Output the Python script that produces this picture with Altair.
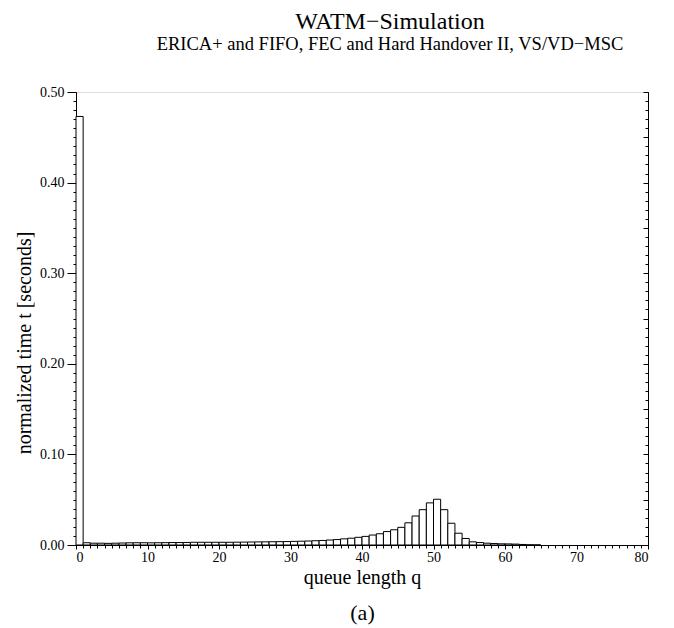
import altair as alt
import pandas as pd

# ---- data ----
q_start = list(range(0, 65))
t_values = [
    0.473, 0.0025, 0.0020, 0.0020, 0.0018, 0.0020, 0.0022, 0.0024, 0.0025, 0.0025,
    0.0024, 0.0025, 0.0026, 0.0027, 0.0027, 0.0028, 0.0030, 0.0030, 0.0030, 0.0030,
    0.0030, 0.0030, 0.0031, 0.0032, 0.0033, 0.0034, 0.0035, 0.0036, 0.0037, 0.0038,
    0.0040, 0.0042, 0.0044, 0.0047, 0.0050, 0.0055, 0.0060, 0.0068, 0.0075, 0.0085,
    0.0095, 0.0110, 0.0124, 0.0148, 0.0168, 0.0195, 0.0245, 0.0320, 0.0390, 0.0465,
    0.0505, 0.0390, 0.0240, 0.0130, 0.0072, 0.0035, 0.0027, 0.0020, 0.0016, 0.0013,
    0.0012, 0.0010, 0.0006, 0.0002, 0.0001,
]
x_major = [0, 10, 20, 30, 40, 50, 60, 70, 80]
x_minor = list(range(0, 81))
y_major = [0.0, 0.1, 0.2, 0.3, 0.4, 0.5]
y_minor = [i / 100 for i in range(0, 51)]
y_mid = [i / 100 for i in range(0, 51, 5)]

title_text = "WATM\u2212Simulation"
subtitle_text = "ERICA+ and FIFO, FEC and Hard Handover II, VS/VD\u2212MSC"
x_title = "queue length q"
y_title = "normalized time t [seconds]"
caption = "(a)"

df = pd.DataFrame({"q": q_start, "t": t_values})

FONT = "Liberation Serif"
W, H = 572, 453

x_scale = alt.Scale(domain=[0, 80], nice=False, zero=False)
y_scale = alt.Scale(domain=[0, 0.5], nice=False)

base = alt.Chart(df).transform_calculate(q2="datum.q + 1")

common_axis = dict(grid=False, domainColor="black", tickColor="black",
                   labelColor="black", titleColor="black", labelFont=FONT,
                   titleFont=FONT, titleFontWeight="normal")

bars = base.mark_bar(fill="white", stroke="black", strokeWidth=1).encode(
    x=alt.X("q:Q", scale=x_scale,
            axis=alt.Axis(orient="bottom", values=x_major, format="d", tickSize=4,
                          labelFontSize=14, labelPadding=1, title=x_title,
                          titleFontSize=20, titlePadding=3, **common_axis)),
    x2="q2:Q",
    y=alt.Y("t:Q", scale=y_scale,
            axis=alt.Axis(orient="left", values=y_major, format=".2f", tickSize=9,
                          labelFontSize=14, labelPadding=3, title=y_title,
                          titleFontSize=20, titlePadding=5,
                          titleY=H / 2 + 24, **common_axis)),
    y2=alt.datum(0),
)

minor_lb = base.mark_bar(opacity=0).encode(
    x=alt.X("q:Q", scale=x_scale,
            axis=alt.Axis(orient="bottom", values=x_minor, labels=False, domain=False,
                          tickSize=3, title=caption, titleFontSize=22,
                          titlePadding=54, **common_axis)),
    x2="q2:Q",
    y=alt.Y("t:Q", scale=y_scale,
            axis=alt.Axis(orient="left", values=y_minor, labels=False, domain=False,
                          tickSize=3, title="", **common_axis)),
    y2=alt.datum(0),
)

right_minor = base.mark_bar(opacity=0).encode(
    x=alt.X("q:Q", scale=x_scale, axis=None),
    x2="q2:Q",
    y=alt.Y("t:Q", scale=y_scale,
            axis=alt.Axis(orient="right", values=y_minor, labels=False, domain=False,
                          tickSize=3, offset=-3, title="", **common_axis)),
    y2=alt.datum(0),
)

right_mid = base.mark_bar(opacity=0).encode(
    x=alt.X("q:Q", scale=x_scale, axis=None),
    x2="q2:Q",
    y=alt.Y("t:Q", scale=y_scale,
            axis=alt.Axis(orient="right", values=y_mid, labels=False, domain=False,
                          tickSize=5, offset=-5, title="", **common_axis)),
    y2=alt.datum(0),
)

right_domain = base.mark_bar(opacity=0).encode(
    x=alt.X("q:Q", scale=x_scale, axis=None),
    x2="q2:Q",
    y=alt.Y("t:Q", scale=y_scale,
            axis=alt.Axis(orient="right", values=y_major, labels=False, ticks=False,
                          domain=True, title="", **common_axis)),
    y2=alt.datum(0),
)

chart = alt.layer(bars, minor_lb, right_minor, right_mid, right_domain).resolve_axis(
    x="independent", y="independent"
).properties(
    width=W,
    height=H,
    padding={"left": 68, "top": 84, "right": 18, "bottom": 83},
    autosize=alt.AutoSizeParams(type="none"),
    title=alt.TitleParams(
        text=title_text, subtitle=subtitle_text, font=FONT, fontSize=24,
        fontWeight="normal", color="black", subtitleFont=FONT, subtitleFontSize=18.5,
        subtitleColor="black", anchor="middle", offset=32, subtitlePadding=1,
        dx=28,
    ),
).configure_view(stroke=None).configure(background="white")

chart.save("out.html", embed_options={"renderer": "svg", "actions": False})
